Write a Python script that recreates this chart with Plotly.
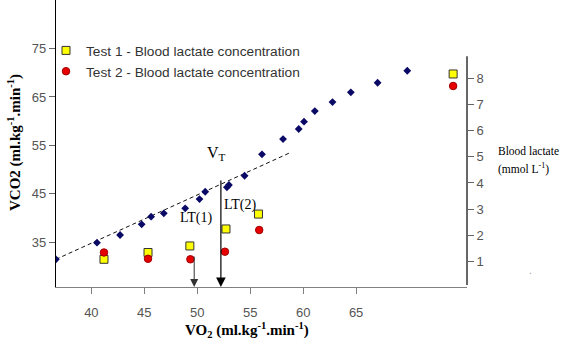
import plotly.graph_objects as go

# ---- data ----
vo2_vco2 = [36.65, 40.53, 42.71, 44.75, 45.64, 46.84, 48.86, 50.21, 50.75, 52.80, 52.99,
            54.47, 56.11, 58.10, 59.58, 60.08, 61.10, 62.77, 64.50, 67.03, 69.83]
vco2 = [31.42, 34.86, 36.45, 38.67, 40.24, 40.94, 41.97, 43.89, 45.40, 46.31, 46.79,
        48.71, 53.14, 56.30, 58.37, 59.88, 62.09, 63.95, 65.95, 67.94, 70.42]

trend_vo2 = [36.65, 58.76]
trend_vco2 = [31.42, 53.47]

test1_vo2 = [41.19, 45.35, 49.30, 52.71, 55.78, 74.16]
test1_lac = [1.08, 1.34, 1.59, 2.24, 2.81, 8.17]
test2_vo2 = [41.19, 45.35, 49.35, 52.61, 55.85, 74.16]
test2_lac = [1.34, 1.10, 1.08, 1.37, 2.20, 7.71]

lt_vo2 = [49.71, 52.23]          # arrow positions (LT1, LT2)
lt_top = [32.31, 48.03]          # VCO2 at arrow tail
vt_point = (51.85, 53.41)

x_ticks = [40, 45, 50, 55, 60, 65]
y_ticks = [35, 45, 55, 65, 75]
lac_ticks = [1, 2, 3, 4, 5, 6, 7, 8]

XR = [36.66, 75.47]
YR = [25.7, 85.05]
Y2R = [0.02, 11.0]

sans = "Liberation Sans, Arial, sans-serif"
serif = "Liberation Serif, Times New Roman, serif"

fig = go.Figure()

fig.add_trace(go.Scatter(x=trend_vo2, y=trend_vco2, mode="lines",
                         line=dict(color="#111", width=1, dash="4px,3px"),
                         showlegend=False, hoverinfo="skip"))
fig.add_trace(go.Scatter(x=vo2_vco2, y=vco2, mode="markers",
                         marker=dict(symbol="diamond", size=6, color="#0a0a66",
                                     line=dict(width=0)),
                         showlegend=False))
fig.add_trace(go.Scatter(x=test1_vo2, y=test1_lac, yaxis="y2", mode="markers",
                         name="Test 1 - Blood lactate concentration",
                         legendgroup="a",
                         marker=dict(symbol="square", size=8, color="#ffff00",
                                     line=dict(width=1, color="#333"))))
fig.add_trace(go.Scatter(x=test2_vo2, y=test2_lac, yaxis="y2", mode="markers",
                         name="Test 2 - Blood lactate concentration",
                         legendgroup="b",
                         marker=dict(symbol="circle", size=7.5, color="#e60000",
                                     line=dict(width=1, color="#a00000"))))

annotations = []
# threshold arrows
for xv, top, col, w in zip(lt_vo2, lt_top, ["#333", "#000"], [1, 1.2]):
    annotations.append(dict(x=xv, y=YR[0], ax=xv, ay=top, xref="x", yref="y",
                            axref="x", ayref="y", text="", showarrow=True,
                            arrowhead=2, arrowsize=1.6, arrowwidth=w,
                            arrowcolor=col, standoff=0))
annotations += [
    dict(x=vt_point[0], y=vt_point[1], xref="x", yref="y", showarrow=False,
         text="V<sub>T</sub>", font=dict(family=serif, size=16, color="#000")),
    dict(x=49.87, y=39.96, xref="x", yref="y", showarrow=False,
         text="LT(1)", font=dict(family=serif, size=14, color="#000")),
    dict(x=54.03, y=42.65, xref="x", yref="y", showarrow=False,
         text="LT(2)", font=dict(family=serif, size=14, color="#000")),
    dict(x=0.4647, y=(287 - 330) / 287, xref="paper", yref="paper", showarrow=False,
         xanchor="center", yanchor="middle",
         text="<b>VO<sub>2</sub> (ml.kg<sup>-1</sup>.min<sup>-1</sup>)</b>",
         font=dict(family=serif, size=15, color="#000")),
    dict(x=(14 - 56) / 411, y=(287 - 143) / 287, xref="paper", yref="paper",
         showarrow=False, textangle=-90, xanchor="center", yanchor="middle",
         text="<b>VCO2 (ml.kg<sup>-1</sup>.min<sup>-1</sup>)</b>",
         font=dict(family=serif, size=15, color="#000")),
    dict(x=(496 - 56) / 411, y=(287 - 151) / 287, xref="paper", yref="paper",
         showarrow=False, xanchor="left", yanchor="middle", text="Blood lactate",
         font=dict(family=serif, size=11.5, color="#000")),
    dict(x=(496 - 56) / 411, y=(287 - 168) / 287, xref="paper", yref="paper",
         showarrow=False, xanchor="left", yanchor="middle",
         text="(mmol L<sup>-1</sup>)",
         font=dict(family=serif, size=11.5, color="#000")),
    dict(x=(534 - 56) / 411, y=(287 - 278) / 287, xref="paper", yref="paper",
         showarrow=False, text=".", font=dict(family=sans, size=10, color="#999")),
]

shapes = [
    dict(type="line", xref="paper", yref="y2", x0=1, x1=1, y0=0.1, y1=8.85,
         line=dict(color="#000", width=1.2)),
]

fig.update_layout(
    width=561, height=341,
    margin=dict(l=56, r=94, t=0, b=54),
    paper_bgcolor="white", plot_bgcolor="white",
    font=dict(family=sans, size=13, color="#555"),
    showlegend=True,
    legend=dict(x=(46 - 56) / 411, y=(287 - 35) / 287, xanchor="left", yanchor="top",
                bgcolor="rgba(0,0,0,0)", tracegroupgap=0,
                font=dict(family=sans, size=13.7, color="#333")),
    xaxis=dict(range=XR, tickvals=x_ticks, showgrid=False, zeroline=False,
               showline=True, linecolor="#808080", linewidth=1.2,
               ticks="outside", ticklen=6, tickcolor="#808080",
               ticklabelstandoff=7,
               tickfont=dict(family=sans, size=13, color="#555")),
    yaxis=dict(range=YR, tickvals=y_ticks, showgrid=False, zeroline=False,
               showline=True, linecolor="#000", linewidth=1.2,
               ticks="outside", ticklen=6, tickcolor="#666",
               tickfont=dict(family=sans, size=13, color="#555")),
    yaxis2=dict(range=Y2R, tickvals=lac_ticks, overlaying="y", side="right",
                showgrid=False, zeroline=False, showline=False,
                ticks="outside", ticklen=6, tickcolor="#666",
                tickfont=dict(family=sans, size=13, color="#555")),
    annotations=annotations,
    shapes=shapes,
)

fig.write_html("out.html")
